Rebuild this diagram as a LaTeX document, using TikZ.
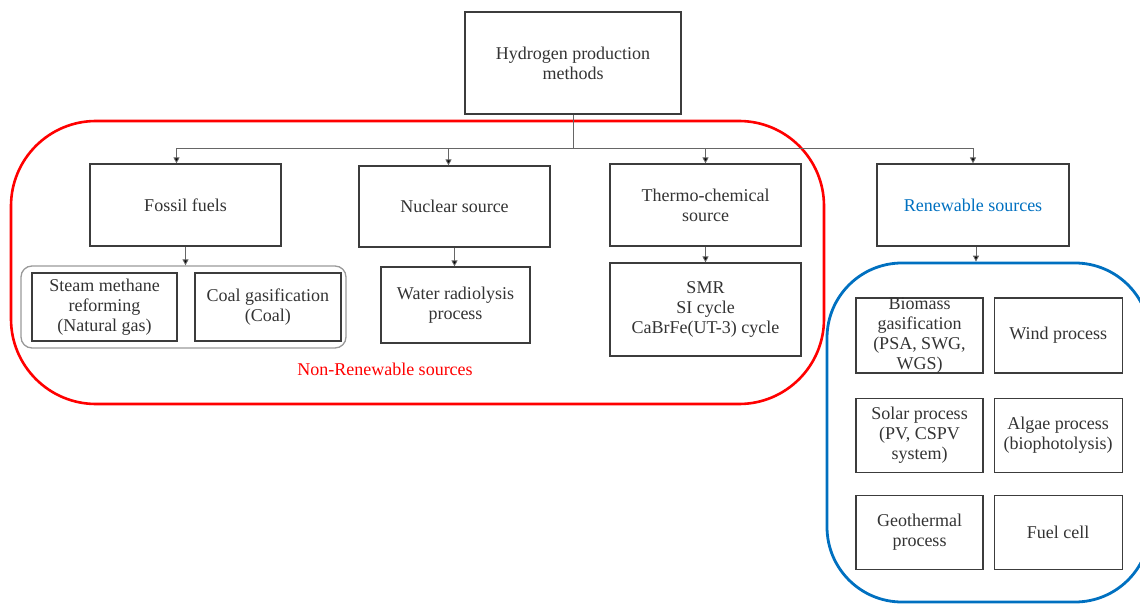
\documentclass[tikz,border=0pt]{standalone}
\usepackage{fontspec}
\setmainfont{Liberation Serif}
\usepackage{xcolor}
\usetikzlibrary{arrows.meta,positioning}
\definecolor{nrred}{RGB}{255,0,0}
\definecolor{rnblue}{RGB}{0,112,192}
\definecolor{boxgray}{RGB}{60,60,60}

\tikzset{
  box/.style={draw=boxgray, line width=1.2pt, align=center, inner sep=2pt,
    font=\fontsize{18}{20}\selectfont, text=black!80},
  thickbox/.style={box, line width=1.8pt},
  link/.style={draw=black!60, line width=0.9pt},
  arrowlink/.style={link, -{Triangle[length=6pt, width=6pt, fill=black]}},
}

\begin{document}
\begin{tikzpicture}[x=1pt, y=-1pt]
    \useasboundingbox (0,0) rectangle (1140,604);

    % Group frames
    \node[draw=nrred, line width=2.6pt, rounded corners=85pt,
          minimum width=813pt, minimum height=283pt] (nonrengroup) at (417.5,262.5) {};
    \node[draw=rnblue, line width=2.8pt, rounded corners=75pt,
          minimum width=323pt, minimum height=339pt] (rengroup) at (988.5,432.5) {};
    \node[draw=black!40, line width=1.3pt, rounded corners=11pt,
          minimum width=325pt, minimum height=82pt] (fossilgroup) at (183.5,307) {};

    % Top level
    \node[box, minimum width=216pt, minimum height=102pt] (top) at (573,63)
        {Hydrogen production\\methods};

    % Source boxes
    \node[box, minimum width=191pt, minimum height=82pt] (fossil) at (185.5,205) {Fossil fuels};
    \node[box, minimum width=191pt, minimum height=81pt] (nuclear) at (454.5,206.5) {Nuclear source};
    \node[box, minimum width=191pt, minimum height=82pt] (thermo) at (705.5,205) {Thermo-chemical\\source};
    \node[box, minimum width=192pt, minimum height=82pt, text=rnblue] (renew) at (973,205) {Renewable sources};

    % Non-renewable processes
    \node[thickbox, minimum width=145pt, minimum height=68pt] (steam) at (104.5,307)
        {Steam methane\\reforming\\(Natural gas)};
    \node[thickbox, minimum width=146pt, minimum height=68pt, right=16pt of steam] (coal)
        {Coal gasification\\(Coal)};
    \node[box, minimum width=149pt, minimum height=76pt] (water) at (455.5,305)
        {Water radiolysis\\process};
    \node[box, minimum width=191pt, minimum height=93pt] (smr) at (705.5,309.5)
        {SMR\\SI cycle\\CaBrFe(UT-3) cycle};
    \node[font=\fontsize{18}{20}\selectfont, text=nrred] (nonrenlabel) at (385,369)
        {Non-Renewable sources};

    % Renewable processes
    \node[box, minimum width=127pt, minimum height=75pt] (biomass) at (919.5,335.5) {};
    \node[align=center, font=\fontsize{18}{20}\selectfont, text=black!80] (biomasstext)
        at (biomass.center) {Biomass\\gasification\\(PSA, SWG,\\WGS)};
    \node[box, minimum width=128pt, minimum height=75pt, right=10pt of biomass] (wind) {Wind process};
    \node[box, minimum width=127pt, minimum height=74pt, below=24pt of biomass] (solar)
        {Solar process\\(PV, CSPV\\system)};
    \node[box, minimum width=128pt, minimum height=74pt, right=10pt of solar] (algae)
        {Algae process\\(biophotolysis)};
    \node[box, minimum width=127pt, minimum height=74pt, below=22pt of solar] (geo)
        {Geothermal\\process};
    \node[box, minimum width=128pt, minimum height=74pt, right=10pt of geo] (fuel) {Fuel cell};

    % Connectors
    \coordinate (bus) at (573,148);
    \draw[link] (top.south) -- (bus);
    \draw[arrowlink] (bus) -| ([xshift=-9pt]fossil.north);
    \draw[arrowlink] (bus) -| ([xshift=-6pt]nuclear.north);
    \draw[arrowlink] (bus) -| (thermo.north);
    \draw[arrowlink] (bus) -| (renew.north);

    \draw[arrowlink] (fossil.south) -- (fossil.south |- fossilgroup.north);
    \draw[arrowlink] (nuclear.south) -- (nuclear.south |- water.north);
    \draw[arrowlink] (thermo.south) -- (smr.north);
    \draw[arrowlink] ([xshift=3pt]renew.south) -- ([xshift=3pt]renew.south |- rengroup.north);
\end{tikzpicture}
\end{document}
